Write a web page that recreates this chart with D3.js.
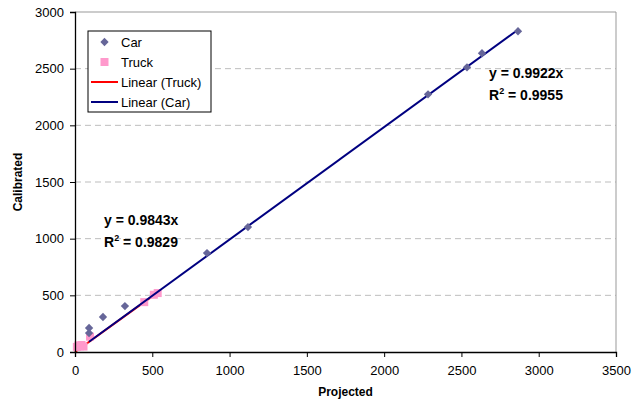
<!DOCTYPE html>
<html>
<head>
<meta charset="utf-8">
<script src="https://cdn.jsdelivr.net/npm/d3@7"></script>
<style>
  body { margin: 0; background: #fff; }
  svg text { font-family: "Liberation Sans", Arial, sans-serif; }
</style>
</head>
<body>
<div id="chart"></div>
<script>
(function() {
  var margin = { top: 12, left: 75, right: 24, bottom: 54 },
    width = 640 - margin.left - margin.right,
    height = 406 - margin.top - margin.bottom;

  // data
  var carProjected   = [91, 91, 181, 323, 854, 1119, 2284, 2536, 2633, 2866]
  var carCalibrated  = [167, 212, 309, 405, 873, 1102, 2274, 2512, 2636, 2830]
  var truckProjected  = [12, 22, 32, 42, 55, 97, 448, 510, 535]
  var truckCalibrated = [45, 58, 50, 62, 48, 135, 440, 505, 520]
  var carSlope = 0.9922, truckSlope = 0.9843
  var xTicks = [0, 500, 1000, 1500, 2000, 2500, 3000, 3500]
  var yTicks = [0, 500, 1000, 1500, 2000, 2500, 3000]

  var car = carProjected.map(function(d, i) { return { x: d, y: carCalibrated[i] } })
  var truck = truckProjected.map(function(d, i) { return { x: d, y: truckCalibrated[i] } })

  var svg = d3.select("#chart")
    .append("svg")
    .attr("width", 640)
    .attr("height", 406)
    .append("g")
    .attr("transform", "translate(" + margin.left + "," + margin.top + ")");

  var xPositionScale = d3.scaleLinear().domain([0, 3500]).range([0, width])
  var yPositionScale = d3.scaleLinear().domain([0, 3000]).range([height, 0])

  // gridlines
  svg.selectAll(".grid")
    .data(yTicks.filter(function(d) { return d > 0 && d < 3000 }))
    .enter().append("line")
    .attr("x1", 0).attr("x2", width)
    .attr("y1", function(d) { return yPositionScale(d) })
    .attr("y2", function(d) { return yPositionScale(d) })
    .attr("stroke", "#bdbdbd")
    .attr("stroke-dasharray", "6,4")

  // plot frame (top + right)
  svg.append("path")
    .attr("d", "M0,0H" + width + "V" + height)
    .attr("fill", "none")
    .attr("stroke", "#999")

  // trend lines
  var truckMax = d3.max(truckProjected)
  var carMin = d3.min(carProjected), carMax = d3.max(carProjected)
  svg.append("line")
    .attr("x1", xPositionScale(0)).attr("y1", yPositionScale(0))
    .attr("x2", xPositionScale(truckMax)).attr("y2", yPositionScale(truckMax * truckSlope))
    .attr("stroke", "#ff0000").attr("stroke-width", 2)

  // markers
  svg.selectAll(".truck")
    .data(truck)
    .enter().append("rect")
    .attr("x", function(d) { return xPositionScale(d.x) - 4 })
    .attr("y", function(d) { return yPositionScale(d.y) - 4 })
    .attr("width", 8).attr("height", 8)
    .attr("fill", "#ff99cc")

  svg.append("line")
    .attr("x1", xPositionScale(carMin)).attr("y1", yPositionScale(carMin * carSlope))
    .attr("x2", xPositionScale(carMax)).attr("y2", yPositionScale(carMax * carSlope))
    .attr("stroke", "#000080").attr("stroke-width", 2)

  var diamond = d3.symbol().type(d3.symbolDiamond2).size(44)
  svg.selectAll(".car")
    .data(car)
    .enter().append("path")
    .attr("d", diamond)
    .attr("transform", function(d) { return "translate(" + xPositionScale(d.x) + "," + yPositionScale(d.y) + ")" })
    .attr("fill", "#666699")

  // axes
  var xAxis = d3.axisBottom(xPositionScale).tickValues(xTicks).tickFormat(d3.format("d")).tickSize(5).tickPadding(6)
  var gx = svg.append("g")
    .attr("class", "axis x-axis")
    .attr("transform", "translate(0," + height + ")")
    .call(xAxis)

  var yAxis = d3.axisLeft(yPositionScale).tickValues(yTicks).tickFormat(d3.format("d")).tickSize(5).tickPadding(6)
  var gy = svg.append("g")
    .attr("class", "axis y-axis")
    .call(yAxis)

  svg.selectAll(".axis .domain").attr("stroke", "#000").attr("stroke-width", 1.3)
  svg.selectAll(".axis text").attr("font-size", 13).attr("fill", "#000")
    .style("font-family", "Liberation Sans, Arial, sans-serif")
  gx.selectAll(".tick text").attr("dy", "0.9em")
  gx.selectAll(".tick line").attr("stroke", "#000")
  gy.selectAll(".tick line").attr("stroke", "#000")

  svg.append("text")
    .attr("x", width / 2).attr("y", height + 44)
    .attr("text-anchor", "middle")
    .attr("font-size", 12).attr("font-weight", "bold")
    .text("Projected")

  svg.append("text")
    .attr("transform", "translate(-53," + (height / 2) + ") rotate(-90)")
    .attr("text-anchor", "middle")
    .attr("font-size", 12).attr("font-weight", "bold")
    .text("Calibrated")

  // equations
  function equation(x, y, slope, r2) {
    svg.append("text").attr("x", x).attr("y", y)
      .attr("font-size", 14).attr("font-weight", "bold")
      .text("y = " + slope + "x")
    var r = svg.append("text").attr("x", x).attr("y", y + 22)
      .attr("font-size", 14).attr("font-weight", "bold")
    r.append("tspan").text("R")
    r.append("tspan").attr("font-size", 9).attr("dy", -6).text("2")
    r.append("tspan").attr("dy", 6).text(" = " + r2)
  }
  equation(414, 66, "0.9922", "0.9955")
  equation(29, 213, "0.9843", "0.9829")

  // legend
  var legend = svg.append("g").attr("transform", "translate(13,19)")
  legend.append("rect")
    .attr("width", 123).attr("height", 81)
    .attr("fill", "#fff").attr("stroke", "#000")
  var items = ["Car", "Truck", "Linear (Truck)", "Linear (Car)"]
  items.forEach(function(name, i) {
    var cy = 11 + i * 20
    if (i == 0) {
      legend.append("path").attr("d", diamond)
        .attr("transform", "translate(16.5," + cy + ")").attr("fill", "#666699")
    } else if (i == 1) {
      legend.append("rect").attr("x", 12.5).attr("y", cy - 4)
        .attr("width", 8).attr("height", 8).attr("fill", "#ff99cc")
    } else {
      legend.append("line").attr("x1", 3).attr("x2", 30)
        .attr("y1", cy).attr("y2", cy)
        .attr("stroke", i == 2 ? "#ff0000" : "#000080").attr("stroke-width", 2)
    }
    legend.append("text").attr("x", 33).attr("y", cy + 5)
      .attr("font-size", 13).text(name)
  })
})();
</script>
</body>
</html>
